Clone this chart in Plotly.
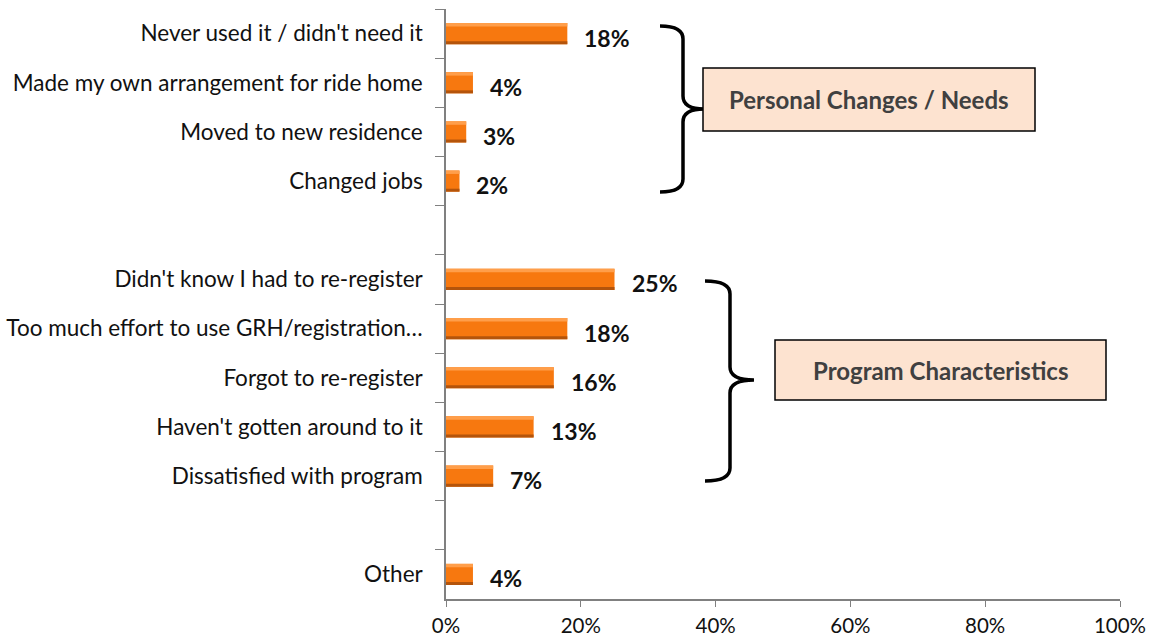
import plotly.graph_objects as go

categories = [
    "Never used it / didn't need it",
    "Made my own arrangement for ride home",
    "Moved to new residence",
    "Changed jobs",
    " ",
    "Didn't know I had to re-register",
    "Too much effort to use GRH/registration…",
    "Forgot to re-register",
    "Haven't gotten around to it",
    "Dissatisfied with program",
    "  ",
    "Other",
]
values = [18, 4, 3, 2, None, 25, 18, 16, 13, 7, None, 4]
value_labels = ["18%", "4%", "3%", "2%", "", "25%", "18%", "16%", "13%", "7%", "", "4%"]
x_ticks = [0, 20, 40, 60, 80, 100]
x_tick_labels = ["0%", "20%", "40%", "60%", "80%", "100%"]
group_labels = ["Personal Changes / Needs", "Program Characteristics"]

FONT = "Lato, 'Open Sans', sans-serif"
W, H = 1150, 641
L, R, T, B = 446, 30, 9, 42
PW, PH = W - L - R, H - T - B

def xp(px):
    return (px - L) / PW

def yp(py):
    return (H - B - py) / PH

fig = go.Figure()
fig.add_trace(go.Bar(
    y=categories, x=values, orientation="h",
    marker=dict(color="#F7780F", line=dict(width=0)),
    width=0.43, hoverinfo="skip",
))
fig.add_trace(go.Bar(
    y=categories, x=values, orientation="h",
    marker=dict(color="#FF9E4A", line=dict(width=0)),
    width=0.07, offset=-0.215, hoverinfo="skip",
))
fig.add_trace(go.Bar(
    y=categories, x=values, orientation="h",
    marker=dict(color="#B4540B", line=dict(width=0)),
    width=0.06, offset=0.155, hoverinfo="skip",
))

for c, v, t in zip(categories, values, value_labels):
    if v is None:
        continue
    fig.add_annotation(x=v, y=c, text="<b>%s</b>" % t, showarrow=False,
                       xanchor="left", xshift=15, yshift=-4,
                       font=dict(family=FONT, size=23, color="#111111"))

def brace(x0, xm, xtip, ytop, ytip, ybot, r=13):
    pts = [
        ("M", [(x0, ytop)]),
        ("Q", [(xm, ytop), (xm, ytop + r)]),
        ("L", [(xm, ytip - r)]),
        ("Q", [(xm, ytip), (xtip, ytip)]),
        ("Q", [(xm, ytip), (xm, ytip + r)]),
        ("L", [(xm, ybot - r)]),
        ("Q", [(xm, ybot), (x0, ybot)]),
    ]
    s = ""
    for cmd, ps in pts:
        s += cmd + " " + " ".join("%.5f,%.5f" % (xp(a), yp(b)) for a, b in ps) + " "
    return s.strip()

fig.add_shape(type="path", xref="paper", yref="paper",
              path=brace(660, 683, 704, 26, 109, 192),
              line=dict(color="black", width=3.5))
fig.add_shape(type="path", xref="paper", yref="paper",
              path=brace(705, 730, 754, 281, 380, 481),
              line=dict(color="black", width=3.5))

boxes = [(703, 1035, 68, 131), (775, 1106, 340, 400)]
for (bx0, bx1, by0, by1), lab in zip(boxes, group_labels):
    fig.add_shape(type="rect", xref="paper", yref="paper",
                  x0=xp(bx0), x1=xp(bx1), y0=yp(by1), y1=yp(by0),
                  fillcolor="#FDE3D0", line=dict(color="black", width=1.5))
    fig.add_annotation(xref="paper", yref="paper",
                       x=xp((bx0 + bx1) / 2), y=yp((by0 + by1) / 2),
                       text="<b>%s</b>" % lab, showarrow=False,
                       xanchor="center", yanchor="middle",
                       font=dict(family=FONT, size=24, color="#404040"))

fig.update_layout(
    width=W, height=H,
    margin=dict(l=L, r=R, t=T, b=B, pad=0, autoexpand=False),
    paper_bgcolor="white", plot_bgcolor="white",
    barmode="overlay", showlegend=False,
    font=dict(family=FONT, color="#111111"),
)
fig.update_xaxes(
    range=[0, 100], tickvals=x_ticks, ticktext=x_tick_labels,
    automargin=False,
    showgrid=False, zeroline=False, showline=True, linecolor="#808080", linewidth=1.5,
    ticks="outside", ticklen=6, tickcolor="#808080", ticklabelstandoff=2,
    tickfont=dict(family=FONT, size=20.5, color="#111111"),
)
fig.update_yaxes(
    type="category", categoryorder="array", categoryarray=categories,
    autorange="reversed", automargin=False,
    showgrid=False, zeroline=False, showline=True, linecolor="#808080", linewidth=1.5,
    ticks="outside", ticklen=9, tickcolor="#808080", tickson="boundaries",
    ticklabelstandoff=17,
    tickfont=dict(family=FONT, size=22.5, color="#111111"),
)

fig.write_html("out.html", config={"displayModeBar": False},
               post_script="document.body.style.margin='0';document.body.style.overflow='hidden';")
